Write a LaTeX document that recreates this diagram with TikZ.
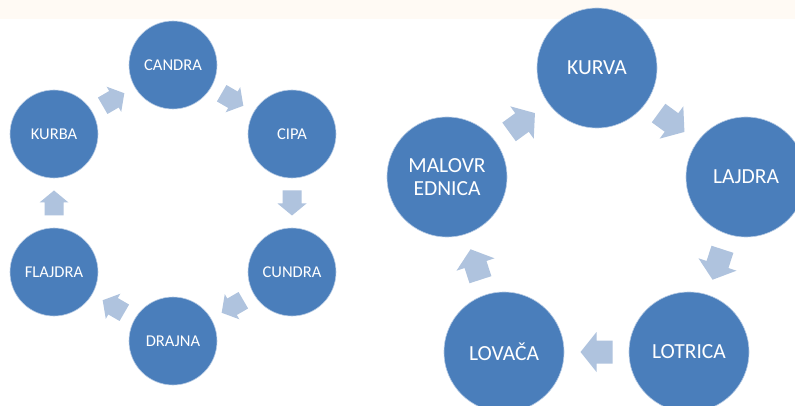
\documentclass[tikz,border=0pt]{standalone}
\usepackage{fontspec}
\setmainfont{Carlito}
\usetikzlibrary{calc}
\definecolor{circfill}{HTML}{4A7EBB}
\definecolor{arrfill}{HTML}{AFC3DE}
\definecolor{band}{HTML}{FFFAF4}
\tikzset{
  smallcirc/.style={circle, fill=circfill, draw=white!60!circfill, line width=0.6pt, minimum size=88pt, inner sep=0pt, text=white, font=\fontsize{16.5}{20}\selectfont, align=center},
  bigcirc/.style={circle, fill=circfill, draw=white!60!circfill, line width=0.6pt, minimum size=120pt, inner sep=0pt, text=white, font=\fontsize{21.5}{23}\selectfont, align=center},
}
% block arrow: from, to, length, head length, head width, shaft width
\newcommand\blockarr[6]{%
  \coordinate (m) at ($(#1)!0.5!(#2)$);
  \coordinate (t) at ($(m)!-#3/2!(#2)$);
  \coordinate (hb) at ($(m)!#3/2-#4!(#2)$);
  \coordinate (tip) at ($(m)!#3/2!(#2)$);
  \fill[arrfill] ($(t)!#6/2!90:(tip)$) -- ($(hb)!#6/2!90:(tip)$) -- ($(hb)!#5/2!90:(tip)$)
    -- (tip) -- ($(hb)!#5/2!-90:(tip)$) -- ($(hb)!#6/2!-90:(tip)$) -- ($(t)!#6/2!-90:(tip)$) -- cycle;
}
\begin{document}
\begin{tikzpicture}[x=1pt,y=-1pt]
\fill[white] (0,0) rectangle (795,406);
\useasboundingbox (0,0) rectangle (795,406);
\fill[band] (0,0) rectangle (795,19.5);
% left hexagon cycle
\node[smallcirc] (candra) at (173,65) {CANDRA};
\node[smallcirc] (cipa) at (292,134) {CIPA};
\node[smallcirc] (cundra) at (292,272) {CUNDRA};
\node[smallcirc] (drajna) at (173,341) {DRAJNA};
\node[smallcirc] (flajdra) at (54,272) {FLAJDRA};
\node[smallcirc] (kurba) at (54,134) {KURBA};
\blockarr{kurba}{candra}{25pt}{12pt}{29pt}{19pt}
\blockarr{candra}{cipa}{25pt}{12pt}{29pt}{19pt}
\blockarr{cipa}{cundra}{25pt}{12pt}{29pt}{19pt}
\blockarr{cundra}{drajna}{25pt}{12pt}{29pt}{19pt}
\blockarr{drajna}{flajdra}{25pt}{12pt}{29pt}{19pt}
\blockarr{flajdra}{kurba}{25pt}{12pt}{29pt}{19pt}
% right pentagon cycle
\node[bigcirc] (kurva) at (597,68) {KURVA};
\node[bigcirc] (lajdra) at (746,177) {LAJDRA};
\node[bigcirc] (lotrica) at (689,352) {LOTRICA};
\node[bigcirc] (lovaca) at (504,352) {LOVAČA};
\node[bigcirc] (malo) at (447,177) {MALOVR\\EDNICA};
\blockarr{kurva}{lajdra}{32pt}{16pt}{40pt}{23pt}
\blockarr{lajdra}{lotrica}{32pt}{16pt}{40pt}{23pt}
\blockarr{lotrica}{lovaca}{32pt}{16pt}{40pt}{23pt}
\blockarr{lovaca}{malo}{32pt}{16pt}{40pt}{23pt}
\blockarr{malo}{kurva}{32pt}{16pt}{40pt}{23pt}
\end{tikzpicture}
\end{document}
